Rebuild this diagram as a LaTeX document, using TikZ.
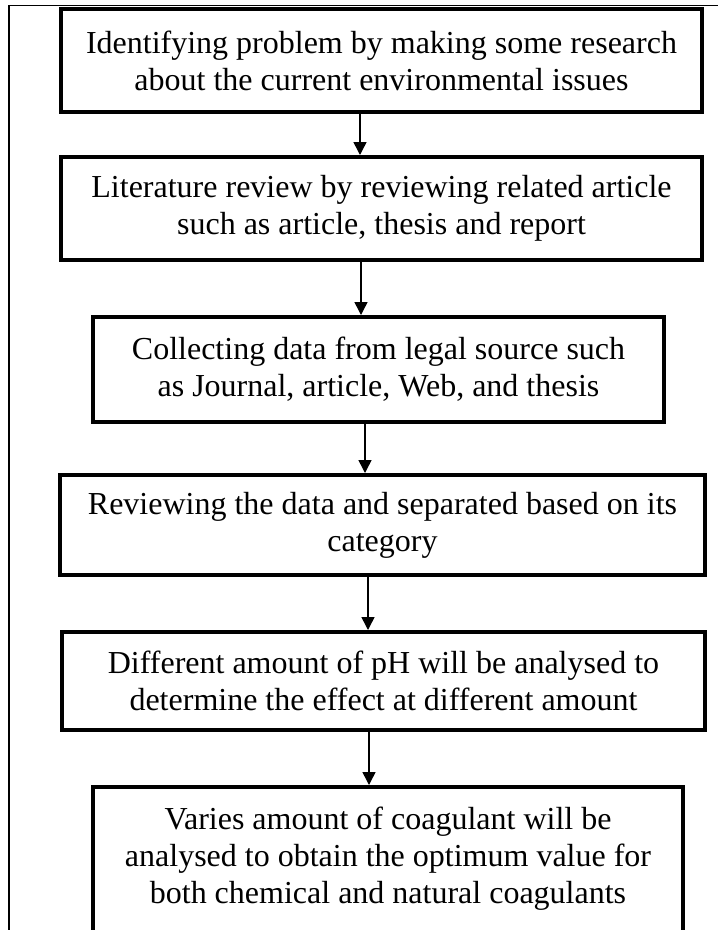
\documentclass[tikz,border=0pt]{standalone}
\usepackage{fontspec}
\setmainfont{Liberation Serif}
\usetikzlibrary{arrows.meta}
\begin{document}
\begin{tikzpicture}[x=1pt,y=-1pt,line width=1.5pt,
  stage/.style={draw,line width=4pt,inner sep=0pt,align=center,font=\fontsize{32}{36.8}\selectfont},
  flow/.style={-{Triangle[width=13pt,length=13pt]}}]
  \useasboundingbox (0,0) rectangle (718,930);
  \clip (0,0) rectangle (718,930);
  % frame
  \draw (9,930) -- (9,5.5) -- (718,5.5);
  % stages
  \node[stage,minimum width=641pt,minimum height=103pt] (problem) at (381.5,60.5)
    {Identifying problem by making some research\\about the current environmental issues};
  \node[stage,minimum width=641pt,minimum height=103pt] (review) at (381.5,208.5)
    {Literature review by reviewing related article\\such as article, thesis and report};
  \node[stage,minimum width=571pt,minimum height=105pt] (collect) at (378.5,369.5)
    {Collecting data from legal source such\\as Journal, article, Web, and thesis};
  \node[stage,minimum width=645pt,minimum height=100pt] (sort) at (382.5,525)
    {Reviewing the data and separated based on its\\category};
  \node[stage,minimum width=643pt,minimum height=98pt] (ph) at (383.5,681)
    {Different amount of pH will be analysed to\\determine the effect at different amount};
  \node[stage,minimum width=590pt,inner ysep=20pt,anchor=north] (dose) at (388,785)
    {Varies amount of coagulant will be\\analysed to obtain the optimum value for\\both chemical and natural coagulants\\\strut};
  % arrows
  \draw[flow] (problem.south -| 360,0) -- (review.north -| 360,0);
  \draw[flow] (review.south -| 361,0) -- (collect.north -| 361,0);
  \draw[flow] (collect.south -| 365,0) -- (sort.north -| 365,0);
  \draw[flow] (sort.south -| 368,0) -- (ph.north -| 368,0);
  \draw[flow] (ph.south -| 369,0) -- (dose.north -| 369,0);
\end{tikzpicture}
\end{document}
